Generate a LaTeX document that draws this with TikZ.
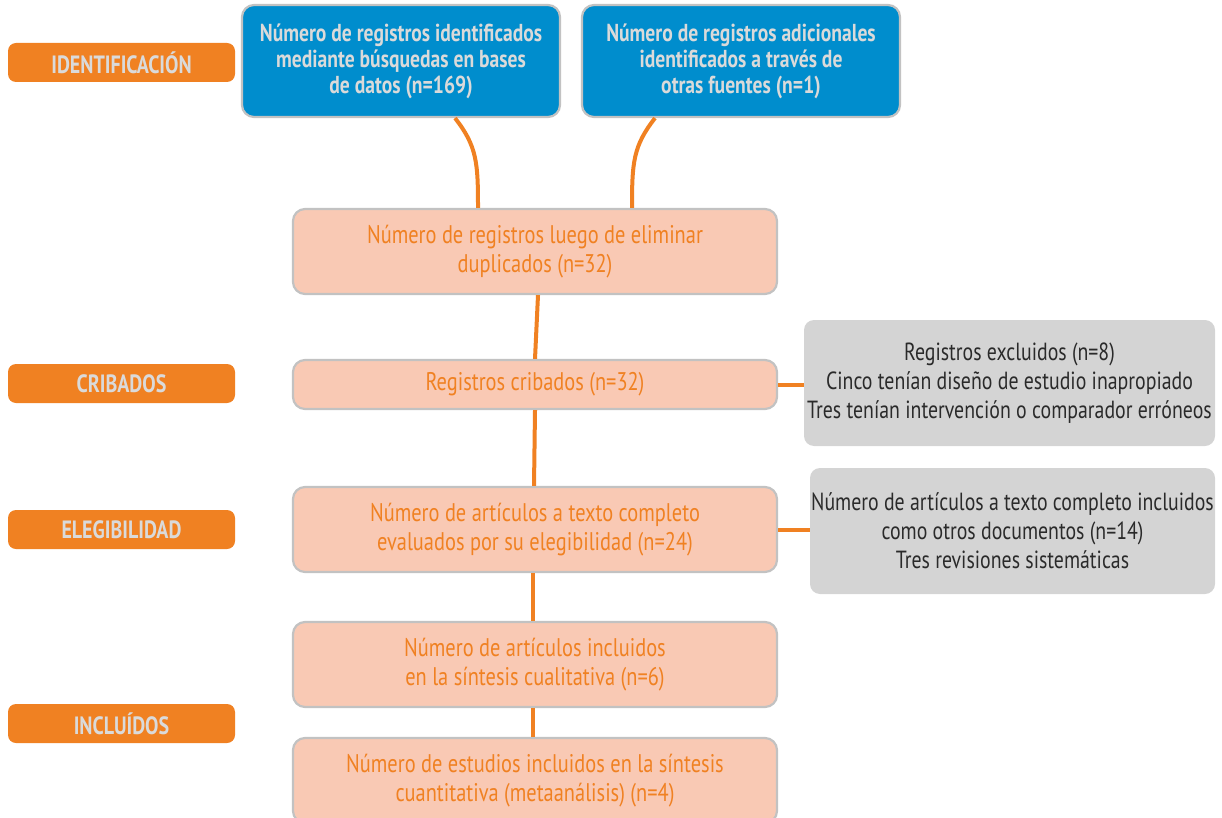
\documentclass[tikz,border=0pt]{standalone}
\usepackage{fontspec}
\setmainfont{PT Sans}[FakeStretch=0.8]
\definecolor{orng}{HTML}{F08122}
\definecolor{bluebox}{HTML}{008DCD}
\definecolor{peach}{HTML}{F9C9B4}
\definecolor{greybox}{HTML}{D4D4D4}
\definecolor{bordergray}{HTML}{C2C2C2}
\definecolor{lighttext}{HTML}{DADADA}
\definecolor{darktext}{HTML}{2A2A2A}
\begin{document}
\begin{tikzpicture}[x=1pt,y=-1pt,
  stagelabel/.style={fill=orng, rounded corners=8pt, minimum width=227pt, minimum height=39pt,
    text=lighttext, font=\bfseries\fontsize{25}{28}\selectfont, inner sep=0pt},
  srcbox/.style={fill=bluebox, draw=bordergray, line width=2.2pt, rounded corners=12pt,
    minimum width=318pt, minimum height=112pt, text=lighttext, align=center,
    font=\bfseries\fontsize{24.5}{26}\selectfont, inner sep=0pt},
  flowbox/.style={fill=peach, draw=bordergray, line width=2.2pt, rounded corners=12pt,
    minimum width=484pt, text=orng, align=center,
    font=\fontsize{25.5}{29.5}\selectfont, inner sep=0pt},
  exclbox/.style={fill=greybox, rounded corners=10pt, text=darktext, align=center,
    minimum height=126pt, font=\fontsize{24.8}{29}\selectfont, inner sep=0pt},
  conn/.style={draw=orng, line width=4pt}
]
\useasboundingbox (0,0) rectangle (1222,818);

% stage labels
\node[stagelabel] (l1) at (121.5,62.5) {IDENTIFICACIÓN};
\node[stagelabel] (l2) at (121.5,383.5) {CRIBADOS};
\node[stagelabel] (l3) at (121.5,529.5) {ELEGIBILIDAD};
\node[stagelabel] (l4) at (121.5,723.5) {INCLUÍDOS};

% source boxes
\node[srcbox] (b1) at (401,61) {Número de registros identificados\\mediante búsquedas en bases\\de datos (n=169)};
\node[srcbox] (b2) at (741,61) {Número de registros adicionales\\identificados a través de\\otras fuentes (n=1)};

% flow boxes
\node[flowbox, minimum height=85pt] (p1) at (535,251.5) {Número de registros luego de eliminar\\duplicados (n=32)};
\node[flowbox, minimum height=49pt] (p2) at (535,384.5) {Registros cribados (n=32)};
\node[flowbox, minimum height=85pt] (p3) at (535,529.5) {Número de artículos a texto completo\\evaluados por su elegibilidad (n=24)};
\node[flowbox, minimum height=85pt] (p4) at (535,664.5) {Número de artículos incluidos\\en la síntesis cualitativa (n=6)};
\node[flowbox, minimum height=85pt] (p5) at (535,780.5) {Número de estudios incluidos en la síntesis\\cuantitativa (metaanálisis) (n=4)};

% exclusion boxes
\node[exclbox, minimum width=411pt] (g1) at (1009.5,383) {Registros excluidos (n=8)\\Cinco tenían diseño de estudio inapropiado\\Tres tenían intervención o comparador erróneos};
\node[exclbox, minimum width=405pt] (g2) at (1012.5,531) {Número de artículos a texto completo incluidos\\como otros documentos (n=14)\\Tres revisiones sistemáticas};

% connectors
\draw[conn] ([xshift=54pt]b1.south) .. controls +(22,28) and +(0,-45) .. ([xshift=-57pt]p1.north);
\draw[conn] ([xshift=-86pt]b2.south) .. controls +(-22,28) and +(0,-45) .. ([xshift=97pt]p1.north);
\draw[conn] ([xshift=3pt]p1.south) -- (p2.north);
\draw[conn] (p2.south) -- ([xshift=-1pt]p3.north);
\draw[conn] ([xshift=-2pt]p3.south) -- ([xshift=-2pt]p4.north);
\draw[conn] ([xshift=-2pt]p4.south) -- ([xshift=-2pt]p5.north);
\draw[conn] (p2.east) -- (p2.east -| g1.west);
\draw[conn] (p3.east) -- (p3.east -| g2.west);
\end{tikzpicture}
\end{document}
